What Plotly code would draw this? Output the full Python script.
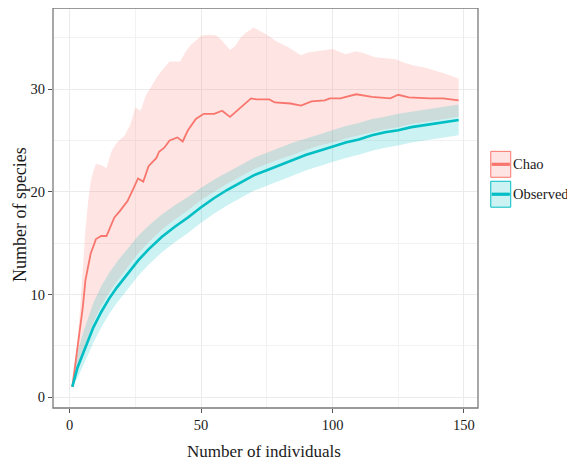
import plotly.graph_objects as go

# ---------------- data ----------------
chao_x = [1, 3, 5, 6, 8, 10, 12, 14, 15, 17, 19, 22, 24, 26, 28, 30, 33, 34, 36, 38,
          41, 43, 45, 48, 51, 55, 58, 61, 65, 69, 71, 76, 78, 84, 88, 92, 97, 99, 103,
          109, 115, 122, 125, 129, 137, 142, 148]
chao_y = [1.0, 4.8, 8.8, 11.4, 14.0, 15.4, 15.7, 15.7, 16.3, 17.5, 18.1, 19.1, 20.2, 21.3, 21.0, 22.5,
          23.3, 23.9, 24.3, 25.0, 25.3, 24.9, 26.0, 27.1, 27.6, 27.6, 27.9, 27.3, 28.2, 29.1,
          29.0, 29.0, 28.7, 28.6, 28.4, 28.8, 28.9, 29.1, 29.1, 29.5, 29.25, 29.1, 29.45, 29.2,
          29.1, 29.1, 28.9]

chao_up_x = [1, 3, 4, 5, 6, 7, 8, 9, 10, 12, 14, 15, 16, 18, 21, 23, 25, 27, 29, 31, 33, 35,
             38, 42, 44, 46, 48, 50, 53, 56, 58, 61, 63, 65, 67, 70, 72, 75, 79, 83, 88, 91,
             94, 97, 100, 103, 105, 109, 112, 116, 120, 124, 127, 131, 135, 139, 143, 148]
chao_up_y = [1.0, 5.5, 8.8, 13.0, 16.3, 19.0, 21.0, 22.0, 22.7, 22.6, 22.3, 23.2, 24.0, 24.8,
             25.5, 26.5, 28.2, 27.9, 29.4, 30.2, 31.1, 31.8, 32.7, 32.7, 33.6, 34.3, 34.7, 35.2,
             35.3, 35.2, 34.7, 33.8, 34.2, 35.0, 35.5, 36.0, 35.7, 35.3, 34.6, 34.1, 33.3, 33.6,
             33.7, 33.8, 33.9, 33.6, 33.4, 33.7, 33.5, 33.1, 33.0, 32.9, 32.6, 32.3, 32.1, 31.8,
             31.5, 31.0]

chao_lo_x = [1, 3, 5, 7, 9, 12, 15, 18, 22, 26, 30, 35, 40, 45, 50, 55, 60, 65, 70, 75, 80,
             85, 90, 95, 100, 105, 110, 115, 120, 125, 130, 135, 140, 145, 148]
chao_lo_y = [1.0, 3.1, 4.5, 5.9, 7.3, 8.9, 10.2, 11.3, 12.7, 14.0, 15.1, 16.3, 17.3, 18.2, 19.2,
             20.0, 20.8, 21.5, 22.2, 22.7, 23.2, 23.6, 24.1, 24.5, 24.8, 25.2, 25.5, 25.8, 26.1,
             26.3, 26.6, 26.8, 27.0, 27.2, 27.3]

obs_x = [1, 3, 5, 7, 9, 12, 15, 18, 22, 26, 30, 35, 40, 45, 50, 55, 60, 65, 70, 75, 80,
         85, 90, 95, 100, 105, 110, 115, 120, 125, 130, 135, 140, 145, 148]
obs_y = [1.0, 2.9, 4.2, 5.5, 6.8, 8.3, 9.6, 10.7, 12.0, 13.3, 14.4, 15.6, 16.6, 17.5, 18.5,
         19.4, 20.2, 20.9, 21.6, 22.1, 22.6, 23.1, 23.6, 24.0, 24.4, 24.8, 25.1, 25.5, 25.8,
         26.0, 26.3, 26.5, 26.7, 26.9, 27.0]
obs_up = [1.0, 4.4, 6.2, 7.8, 9.2, 10.8, 12.1, 13.2, 14.5, 15.7, 16.7, 17.8, 18.7, 19.5, 20.4,
          21.2, 21.9, 22.6, 23.3, 23.8, 24.3, 24.8, 25.2, 25.6, 26.0, 26.4, 26.7, 27.1, 27.3,
          27.6, 27.8, 28.0, 28.2, 28.4, 28.5]
obs_lo = [1.0, 1.9, 3.0, 4.1, 5.3, 6.8, 8.1, 9.2, 10.5, 11.8, 12.9, 14.1, 15.1, 16.0, 17.0,
          17.9, 18.7, 19.4, 20.1, 20.6, 21.1, 21.6, 22.1, 22.5, 22.9, 23.3, 23.6, 24.0, 24.3,
          24.5, 24.8, 25.0, 25.2, 25.4, 25.5]

series_names = ["Chao", "Observed"]
x_ticks = [0, 50, 100, 150]
y_ticks = [0, 10, 20, 30]

# ---------------- styling ----------------
RED = "#F8766D"
TEAL = "#00BFC4"
RED_FILL = "rgba(248,118,109,0.2)"
TEAL_FILL = "rgba(0,191,196,0.2)"
FONT = "Liberation Serif, Times New Roman, serif"
GRID = "#ebebeb"

fig = go.Figure()

# Chao ribbon
fig.add_trace(go.Scatter(
    x=chao_up_x + chao_lo_x[::-1], y=chao_up_y + chao_lo_y[::-1],
    fill="toself", fillcolor=RED_FILL, line=dict(width=0), mode="lines",
    hoverinfo="skip", showlegend=False))
# Observed ribbon
fig.add_trace(go.Scatter(
    x=obs_x + obs_x[::-1], y=obs_up + obs_lo[::-1],
    fill="toself", fillcolor=TEAL_FILL, line=dict(width=0), mode="lines",
    hoverinfo="skip", showlegend=False))
# lines
fig.add_trace(go.Scatter(x=chao_x, y=chao_y, mode="lines", name=series_names[0],
                         line=dict(color=RED, width=1.8), showlegend=False))
fig.add_trace(go.Scatter(x=obs_x, y=obs_y, mode="lines", name=series_names[1],
                         line=dict(color=TEAL, width=2.6), showlegend=False))

axis_common = dict(
    showgrid=True, gridcolor=GRID, gridwidth=1, zeroline=False, showline=False,
    ticks="outside", ticklen=4, tickwidth=1, tickcolor="#555555",
    tickfont=dict(family=FONT, size=14.5, color="#1a1a1a"),
)
fig.update_xaxes(range=[-6.35, 155.35], tickvals=x_ticks,
                 minor=dict(tickvals=[25, 75, 125], showgrid=True, gridcolor="#f2f2f2",
                            gridwidth=1, ticks=""),
                 **axis_common)
fig.update_yaxes(range=[-1.05, 37.9], tickvals=y_ticks,
                 minor=dict(tickvals=[5, 15, 25, 35], showgrid=True, gridcolor="#f2f2f2",
                            gridwidth=1, ticks=""),
                 **axis_common)

shapes = [
    # panel border
    dict(type="rect", xref="paper", yref="paper", x0=0, x1=1, y0=0, y1=1,
         line=dict(color="#7a7a7a", width=1.3), fillcolor="rgba(0,0,0,0)", layer="above"),
]
# manual legend keys
key_specs = [
    (series_names[0], RED, RED_FILL, 0.5768, 0.6416),
    (series_names[1], TEAL, TEAL_FILL, 0.502, 0.5668),
]
annotations = []
for name, col, fillc, y0, y1 in key_specs:
    shapes.append(dict(type="rect", xref="paper", yref="paper", x0=1.030, x1=1.077,
                       y0=y0, y1=y1, fillcolor=fillc, line=dict(color=col, width=1)))
    ym = (y0 + y1) / 2
    shapes.append(dict(type="line", xref="paper", yref="paper", x0=1.032, x1=1.075,
                       y0=ym, y1=ym, line=dict(color=col, width=3.2)))
    annotations.append(dict(text=name, xref="paper", yref="paper", x=1.077, y=ym,
                            xanchor="left", yanchor="middle", showarrow=False,
                            font=dict(family=FONT, size=14.5, color="#1a1a1a")))

annotations.append(dict(text="Number of individuals", xref="paper", yref="paper",
                        x=0.497, y=-0.1097, xanchor="center", yanchor="middle",
                        showarrow=False, font=dict(family=FONT, size=17, color="#1a1a1a")))
annotations.append(dict(text="Number of species", xref="paper", yref="paper",
                        x=-0.076, y=0.484, xanchor="center", yanchor="middle", textangle=-90,
                        showarrow=False, font=dict(family=FONT, size=18, color="#1a1a1a")))

# the page body adds an 8px offset, so the figure is sized/margined to compensate
fig.update_layout(
    width=567, height=454,
    margin=dict(l=45, r=97, t=0, b=54),
    plot_bgcolor="white", paper_bgcolor="white",
    showlegend=False,
    shapes=shapes, annotations=annotations,
)

fig.write_html("out.html")
